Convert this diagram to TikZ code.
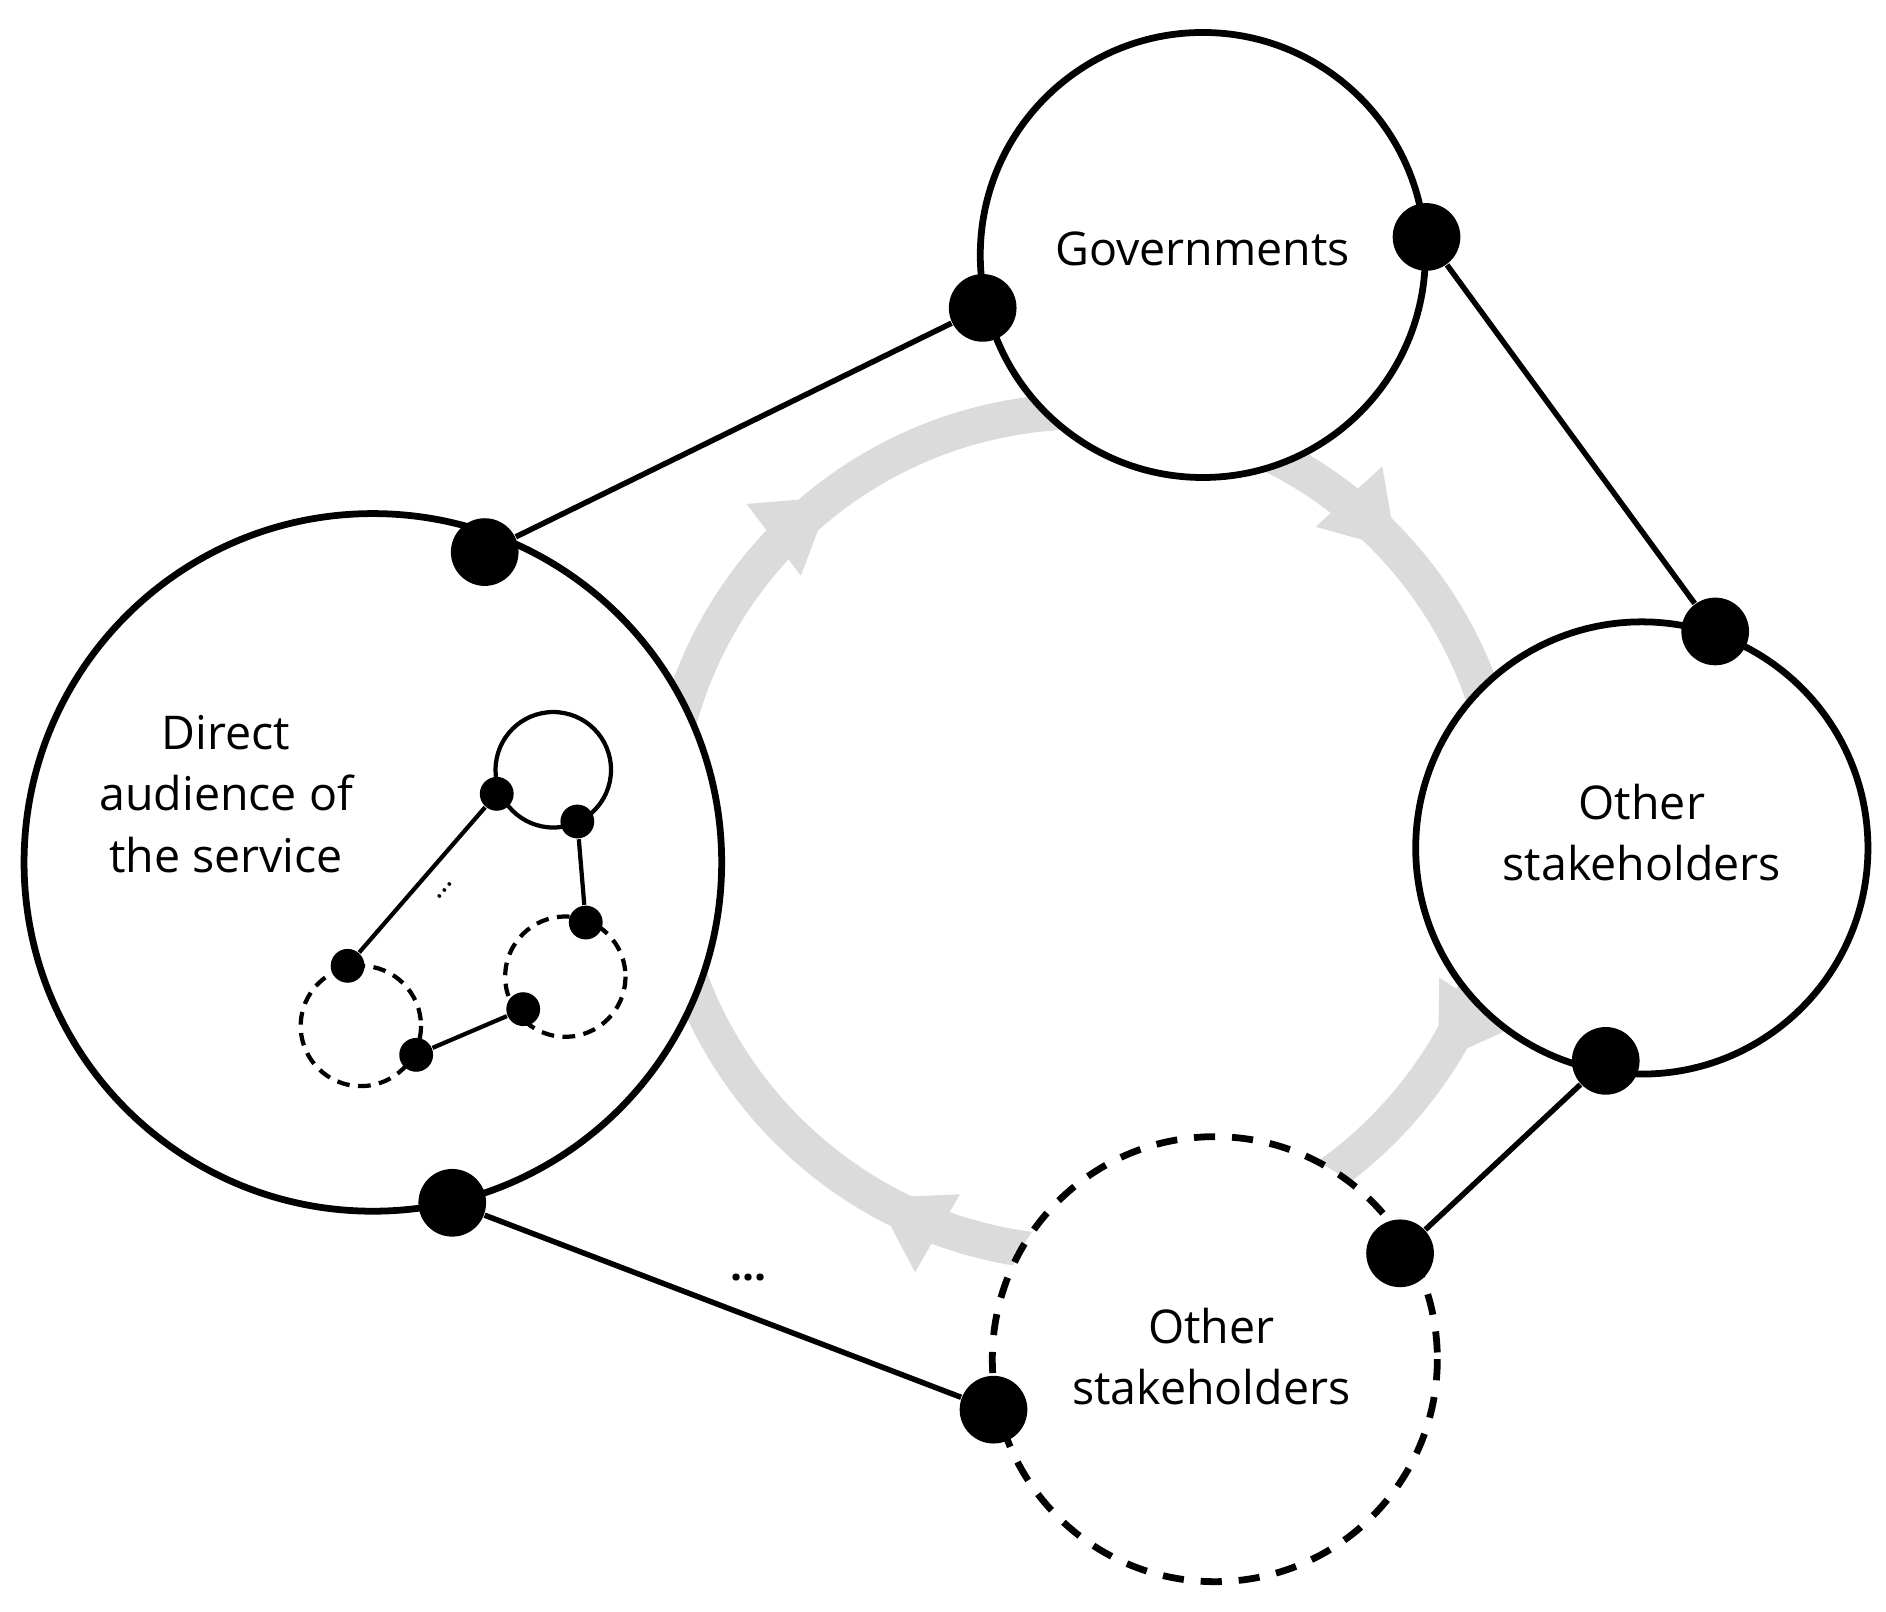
\documentclass[tikz,border=0pt]{standalone}
\usepackage{fontspec}
\setmainfont{Open Sans}
\usetikzlibrary{decorations.markings,arrows.meta}
\begin{document}
\begin{tikzpicture}[x=0.01cm,y=-0.01cm,
  big/.style={draw,line width=1.6pt,fill=white},
  bigd/.style={big,dash pattern=on 5pt off 4pt},
  dot/.style={circle,fill=black,inner sep=0pt,minimum size=16pt},
  sdot/.style={circle,fill=black,inner sep=0pt,minimum size=8pt},
  link/.style={line width=1.3pt},
  lbl/.style={font=\fontsize{11}{14.5}\selectfont,align=center}]
\useasboundingbox (0,0) rectangle (1568,1340);
\coordinate (c) at (902,692);
\draw[line width=8.5pt,gray!28,
  postaction={decorate},
  decoration={markings,
   mark=at position 0.092 with {\arrow[gray!28]{Triangle[length=17pt,width=20pt]}},
   mark=at position 0.333 with {\arrow[gray!28]{Triangle[length=17pt,width=20pt]}},
   mark=at position 0.647 with {\arrow[gray!28]{Triangle[length=17pt,width=20pt]}},
   mark=at position 0.883 with {\arrow[gray!28]{Triangle[length=17pt,width=20pt]}}}]
  (c) circle (350);
% big circles
\draw[big] (1000,212) circle (185);
\draw[big] (310,717) circle (290);
\draw[big] (1365,705) circle (188);
\draw[bigd] (1010,1130) circle (185);
\node[lbl] (gov) at (1000,207) {Governments};
\node[lbl] (dir) at (188,660) {Direct\\audience of\\the service};
\node[lbl] (os1) at (1365,692) {Other\\stakeholders};
\node[lbl] (os2) at (1007,1128) {Other\\stakeholders};
% dots
\node[dot] (g1) at (817,256) {};
\node[dot] (g2) at (1186,197) {};
\node[dot] (d1) at (403,459) {};
\node[dot] (d2) at (376,1000) {};
\node[dot] (o1) at (1426,525) {};
\node[dot] (o2) at (1335,882) {};
\node[dot] (p1) at (1164,1042) {};
\node[dot] (p2) at (826,1172) {};
\draw[link] (g1) -- (d1);
\draw[link] (g2) -- (o1);
\draw[link] (o2) -- (p1);
\draw[link] (d2) -- (p2);
\node (dots) at (622,1062) {\bfseries...};
% inner network
\draw[line width=1pt] (460,640) circle (48);
\draw[line width=1pt,dash pattern=on 3pt off 2pt] (300,853) circle (50);
\draw[line width=1pt,dash pattern=on 3pt off 2pt] (470,812) circle (50);
\node[sdot] (a1) at (413,660) {};
\node[sdot] (a2) at (480,683) {};
\node[sdot] (a3) at (487,767) {};
\node[sdot] (a4) at (289,803) {};
\node[sdot] (a5) at (435,839) {};
\node[sdot] (a6) at (346,877) {};
\draw[line width=1pt] (a1) -- (a4);
\draw[line width=1pt] (a2) -- (a3);
\draw[line width=1pt] (a6) -- (a5);
\node[rotate=50,font=\scriptsize] (sd) at (370,740) {...};
\end{tikzpicture}
\end{document}
